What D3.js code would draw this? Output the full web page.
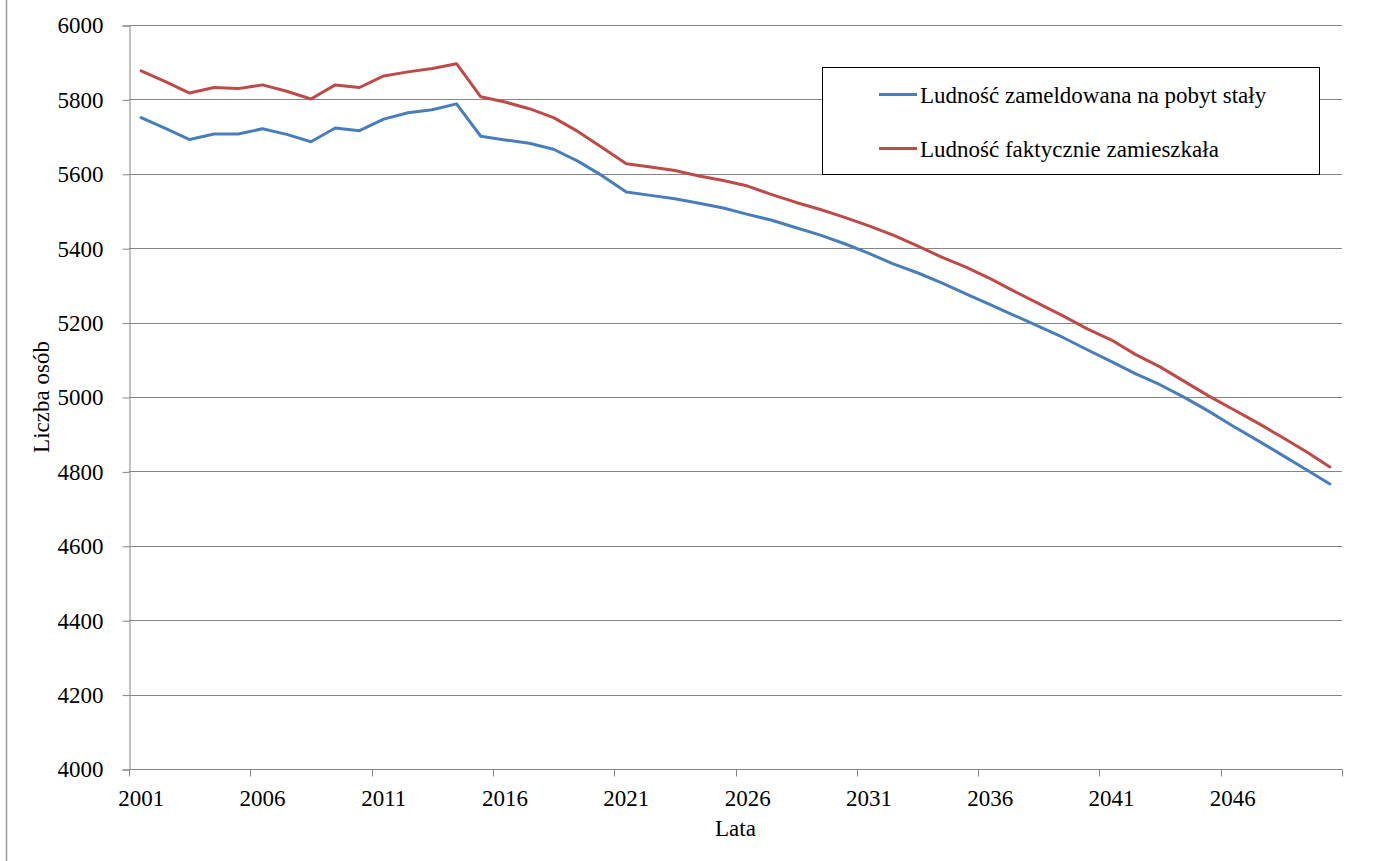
<!DOCTYPE html>
<html>
<head>
<meta charset="utf-8">
<script src="https://cdn.jsdelivr.net/npm/d3@7"></script>
<style>
  html, body { margin: 0; padding: 0; background: #fff; }
  svg { display: block; }
  text { font-family: "Liberation Serif", "Times New Roman", serif; fill: #000; }
</style>
</head>
<body>
<script>
const years = [2001,2002,2003,2004,2005,2006,2007,2008,2009,2010,
  2011,2012,2013,2014,2015,2016,2017,2018,2019,2020,
  2021,2022,2023,2024,2025,2026,2027,2028,2029,2030,
  2031,2032,2033,2034,2035,2036,2037,2038,2039,2040,
  2041,2042,2043,2044,2045,2046,2047,2048,2049,2050];

const zameldowana = [5751,5722,5692,5707,5707,5721,5706,5686,5723,5716,
  5747,5764,5772,5788,5701,5691,5682,5666,5634,5595,
  5551,5542,5533,5521,5508,5491,5475,5455,5435,5412,
  5386,5358,5334,5307,5277,5248,5219,5190,5160,5127,
  5095,5062,5033,4999,4962,4922,4884,4845,4806,4766];

const faktycznie = [5877,5848,5817,5832,5829,5839,5822,5801,5839,5832,
  5863,5874,5883,5896,5807,5793,5775,5751,5714,5671,
  5627,5618,5609,5594,5582,5567,5544,5523,5504,5483,
  5460,5435,5406,5376,5349,5318,5284,5251,5218,5183,
  5153,5114,5081,5042,5003,4967,4931,4893,4854,4812];

const xTickLabels = [2001,2006,2011,2016,2021,2026,2031,2036,2041,2046];
const yTicks = [4000,4200,4400,4600,4800,5000,5200,5400,5600,5800,6000];

const seriesNames = ["Ludność zameldowana na pobyt stały", "Ludność faktycznie zamieszkała"];
const seriesColors = ["#4A7EBB", "#BE4B48"];
const seriesData = [zameldowana, faktycznie];

const W = 1394, H = 861;
const plotL = 129, plotR = 1342, plotT = 25, plotB = 769;
const axisColor = "#868686";
const fontSize = 23;

const svg = d3.select("body").append("svg").attr("width", W).attr("height", H);

// outer chart-area left border
svg.append("line").attr("x1", 6.5).attr("x2", 6.5).attr("y1", 0).attr("y2", H)
  .attr("stroke", "#9a9a9a").attr("stroke-width", 1.5);

const x = d3.scaleBand().domain(years).range([plotL, plotR]).paddingInner(0).paddingOuter(0);
const y = d3.scaleLinear().domain([4000, 6000]).range([plotB, plotT]);
const bw = x.bandwidth();

// gridlines
svg.append("g").selectAll("line").data(yTicks.filter(v => v !== 4000)).join("line")
  .attr("x1", plotL).attr("x2", plotR)
  .attr("y1", d => Math.round(y(d)) + 0.5).attr("y2", d => Math.round(y(d)) + 0.5)
  .attr("stroke", axisColor).attr("stroke-width", 1);

// y axis
const yAxis = svg.append("g").attr("transform", `translate(${plotL + 0.5},0.5)`)
  .call(d3.axisLeft(y).tickValues(yTicks).tickSize(7).tickPadding(19).tickFormat(d3.format("d")));
yAxis.select(".domain").attr("stroke", axisColor);
yAxis.selectAll(".tick line").attr("stroke", axisColor);
yAxis.selectAll(".tick text").style("font-size", fontSize + "px")
  .style("font-family", '"Liberation Serif", serif').attr("fill", "#000");

// x axis
const xAxisG = svg.append("g").attr("transform", `translate(0,${Math.round(plotB) + 0.5})`);
xAxisG.append("line").attr("x1", plotL).attr("x2", plotR + 0.5).attr("y1", 0).attr("y2", 0)
  .attr("stroke", axisColor);
const boundaryTicks = xTickLabels.map(v => x(v)).concat([plotR]);
xAxisG.selectAll("line.tk").data(boundaryTicks).join("line").attr("class", "tk")
  .attr("x1", d => Math.round(d) + 0.5).attr("x2", d => Math.round(d) + 0.5)
  .attr("y1", 0).attr("y2", 7).attr("stroke", axisColor);
xAxisG.selectAll("text").data(xTickLabels).join("text")
  .attr("x", d => x(d) + bw / 2).attr("y", 36)
  .attr("text-anchor", "middle").style("font-size", fontSize + "px")
  .text(d => d);

// axis titles
svg.append("text").attr("x", (plotL + plotR) / 2).attr("y", 836)
  .attr("text-anchor", "middle").style("font-size", fontSize + "px").text("Lata");
svg.append("text").attr("transform", `translate(49,${(plotT + plotB) / 2}) rotate(-90)`)
  .attr("text-anchor", "middle").style("font-size", fontSize + "px").text("Liczba osób");

// lines
const line = d3.line().x((d, i) => x(years[i]) + bw / 2).y(d => y(d));
seriesData.forEach((data, k) => {
  svg.append("path").datum(data).attr("d", line)
    .attr("fill", "none").attr("stroke", seriesColors[k]).attr("stroke-width", 3)
    .attr("stroke-linejoin", "round").attr("stroke-linecap", "round");
});

// legend
const lg = svg.append("g");
lg.append("rect").attr("x", 822.5).attr("y", 67.5).attr("width", 497).attr("height", 107)
  .attr("fill", "#fff").attr("stroke", "#000").attr("stroke-width", 1);
const legendY = [94.5, 148.5];
seriesNames.forEach((name, k) => {
  lg.append("line").attr("x1", 879).attr("x2", 917).attr("y1", legendY[k]).attr("y2", legendY[k])
    .attr("stroke", seriesColors[k]).attr("stroke-width", 3);
  lg.append("text").attr("x", 920).attr("y", legendY[k] + 8)
    .style("font-size", fontSize + "px").text(name);
});
</script>
</body>
</html>
